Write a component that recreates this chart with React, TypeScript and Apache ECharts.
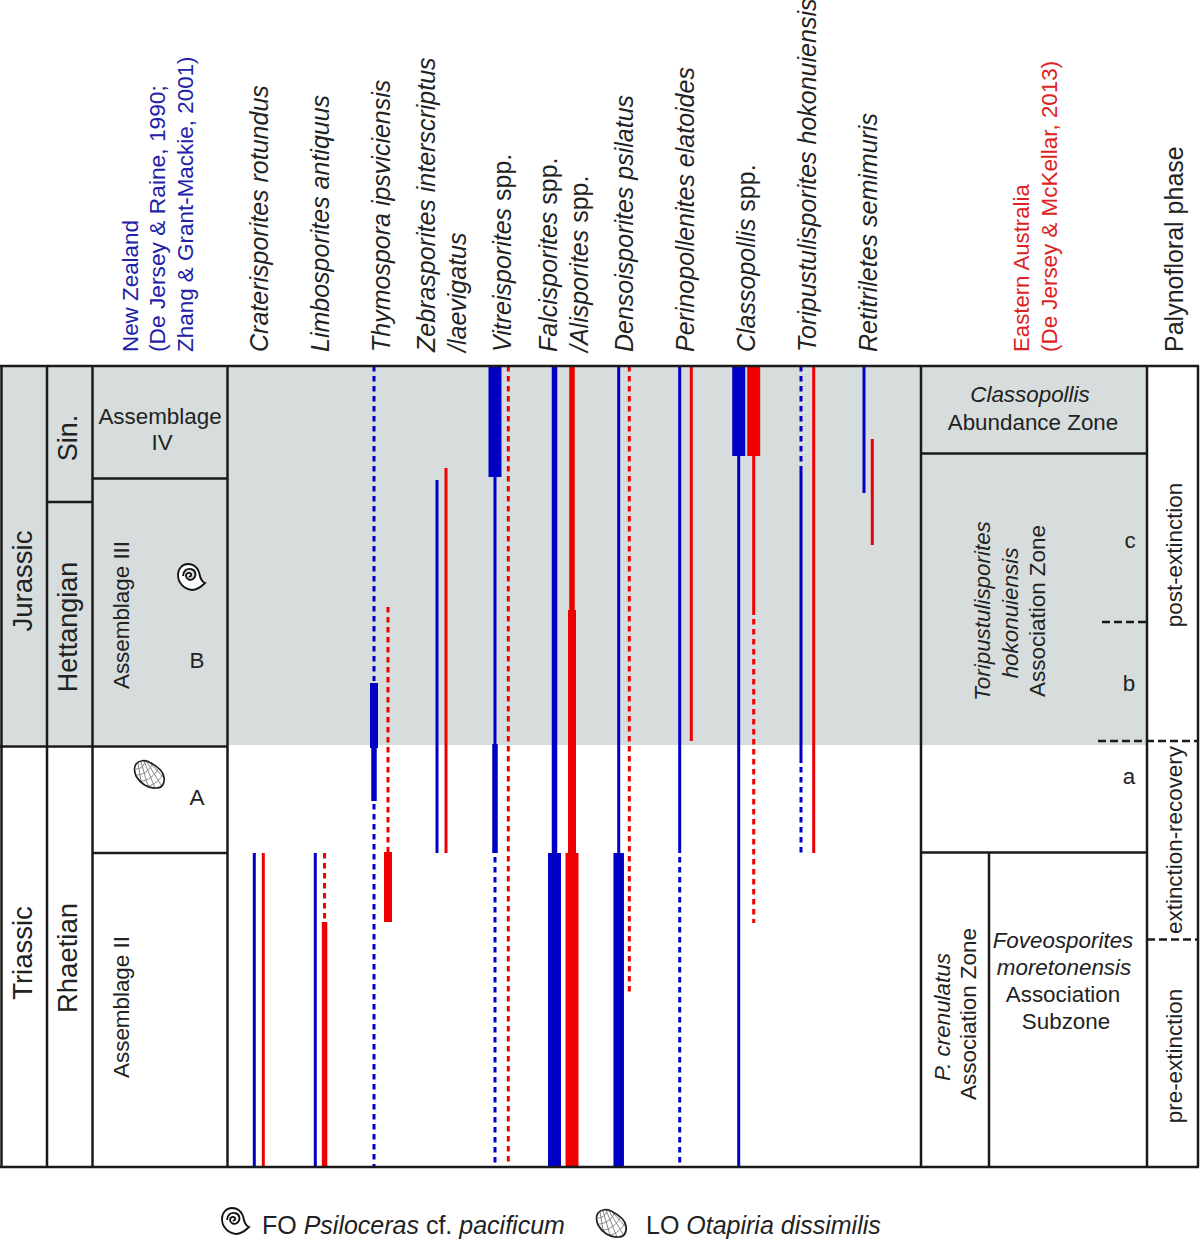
import React, { useEffect, useRef } from "react";
import * as echarts from "echarts";

// ---------- data ----------
const taxa = [
  "{i|Craterisporites rotundus}",
  "{i|Limbosporites antiquus}",
  "{i|Thymospora ipsviciensis}",
  "{i|Zebrasporites interscriptus}\n{i|/laevigatus}",
  "{i|Vitreisporites} {n|spp.}",
  "{i|Falcisporites} {n|spp.}\n{i|/Alisporites} {n|spp.}",
  "{i|Densoisporites psilatus}",
  "{i|Perinopollenites elatoides}",
  "{i|Classopollis} {n|spp.}",
  "{i|Toripustulisporites hokonuiensis}",
  "{i|Retitriletes semimuris}",
];

// [taxon index, upper level, lower level, occurrence class]
const newZealandRanges = [
  [0, 487, 801, "rare"],
  [1, 487, 801, "rare"],
  [2, 0, 315, "inferred"], [2, 317, 382, "common"], [2, 382, 435, "few"], [2, 438, 801, "inferred"],
  [3, 114, 487, "rare"],
  [4, 0, 111, "abundant"], [4, 111, 378, "rare"], [4, 378, 487, "few"], [4, 491, 801, "inferred"],
  [5, 0, 487, "few"], [5, 487, 801, "abundant"],
  [6, 0, 487, "rare"], [6, 487, 801, "frequent"],
  [7, 0, 487, "rare"], [7, 491, 801, "inferred"],
  [8, 0, 90, "abundant"], [8, 90, 801, "rare"],
  [9, 0, 98, "inferred"], [9, 100, 397, "rare"], [9, 401, 487, "inferred"],
  [10, 0, 127, "rare"],
];

const easternAustraliaRanges = [
  [0, 487, 801, "rare"],
  [1, 487, 555, "inferred"], [1, 556, 801, "few"],
  [2, 241, 486, "inferred"], [2, 486, 556, "common"],
  [3, 102, 487, "rare"],
  [4, 0, 801, "inferred"],
  [5, 0, 244, "few"], [5, 244, 487, "common"], [5, 487, 801, "abundant"],
  [6, 0, 627, "inferred"],
  [7, 0, 375, "rare"],
  [8, 0, 90, "abundant"], [8, 90, 249, "rare"], [8, 253, 557, "inferred"],
  [9, 0, 487, "rare"],
  [10, 73, 179, "rare"],
];

const regionHeadingNZ = ["New Zealand", "(De Jersey & Raine, 1990;", "Zhang & Grant-Mackie, 2001)"];
const regionHeadingAU = ["Eastern Australia", "(De Jersey & McKellar, 2013)"];

// ---------- layout and styles ----------
const FONT = '"Liberation Sans", Arial, sans-serif';
const BLUE = "#0000c4";
const RED = "#ee0000";
const HEAD_BLUE = "#2222a8";
const HEAD_RED = "#dd2222";
const INK = "#222222";
const GREY = "#d6dddc";
const LINE = "#1a1a1a";
const TOP = 366;
const HEIGHT = 801;
const LEFT = 228.3;
const BAND = 60.9;

const CLASS_WIDTH: Record<string, number> = { inferred: 3, rare: 3, few: 5.5, common: 8, frequent: 10.5, abundant: 13 };
const BLUE_SHIFT = [-4.45, -4.35, -6.55, -4.45, -7.35, -8.75, -5.45, -5.35, -7.25, -5.85, -3.75];
const RED_SHIFT = [4.55, 4.9, 7.45, 4.55, 5.95, 8.75, 5.15, 6.25, 7.75, 6.85, 4.55];

const AMMONITE =
  "M10 0C4 0 0 5 0 11C0 19 6 25 14 26C20 26 24 22 27 19C23 18 22 13 21 8C19 3 15 0 10 0Z" +
  "M5 12C5 7 9 4 13 5C18 6 19 12 15 15C12 17 8 15 8 12C8 9 11 8 13 10C14 12 12 13 11 12";
const SHELL_OUTLINE = "M3 4C6 0 12 0 16 2C22 5 30 10 31 17C32 24 29 28 23 28C15 29 7 23 3 16C1 11 1 7 3 4Z";
const SHELL_MESH =
  "M5 3L8 21M8 2L15 26M11 1L22 28M14 2L28 25M18 4L31 18" +
  "M3 9C7 9 10 7 12 2M4 15C10 15 17 10 19 5M8 21C15 21 22 15 25 9M15 26C21 25 27 20 30 14";

echarts.graphic.registerShape("ammonite", echarts.graphic.extendPath(AMMONITE, {}));
echarts.graphic.registerShape("shellOutline", echarts.graphic.extendPath(SHELL_OUTLINE, {}));
echarts.graphic.registerShape("shellMesh", echarts.graphic.extendPath(SHELL_MESH, {}));

const rich = (size: number) => ({
  i: { fontStyle: "italic", fontSize: size, fontFamily: FONT, fill: INK, color: INK },
  n: { fontStyle: "normal", fontSize: size, fontFamily: FONT, fill: INK, color: INK },
});

const BODY = 22.4;
const vText = (x: number, y: number, text: string, size = BODY, align = "center", fill = INK) => ({
  type: "text",
  x,
  y,
  rotation: Math.PI / 2,
  z: 6,
  silent: true,
  style: { text, fontSize: size, fontFamily: FONT, fill, align, verticalAlign: "middle", rich: rich(size) },
});
const hText = (x: number, y: number, text: string, size = BODY, align = "center") => ({
  type: "text",
  x,
  y,
  z: 6,
  silent: true,
  style: { text, fontSize: size, fontFamily: FONT, fill: INK, align, verticalAlign: "middle", rich: rich(size) },
});
const seg = (x1: number, y1: number, x2: number, y2: number, dash?: number[]) => ({
  type: "line",
  z: 5,
  silent: true,
  shape: { x1, y1, x2, y2 },
  style: { stroke: LINE, lineWidth: 2.5, lineDash: dash },
});
const ammonite = (x: number, y: number, s: number) => ({
  type: "ammonite", x, y, scaleX: s, scaleY: s, z: 6, silent: true,
  style: { fill: "#ffffff", stroke: "#111111", lineWidth: 1.8 },
});
const shell = (x: number, y: number, s: number) => [
  { type: "shellMesh", x, y, scaleX: s, scaleY: s, z: 6, silent: true, style: { fill: "none", stroke: "#888888", lineWidth: 1 } },
  { type: "shellOutline", x, y, scaleX: s, scaleY: s, z: 6, silent: true, style: { fill: "none", stroke: "#222222", lineWidth: 1.7 } },
];

const rangeSeries = (name: string, data: any[], color: string, shift: number[]) => ({
  type: "custom",
  name,
  data,
  clip: false,
  silent: true,
  encode: { x: 0, y: [1, 2] },
  renderItem: (_: any, api: any) => {
    const i = api.value(0);
    const cls = data[_.dataIndex][3];
    const a = api.coord([i, api.value(1)]);
    const b = api.coord([i, api.value(2)]);
    const x = a[0] + shift[i];
    return {
      type: "line",
      shape: { x1: x, y1: a[1], x2: x, y2: b[1] },
      style: {
        stroke: color,
        lineWidth: CLASS_WIDTH[cls],
        lineDash: cls === "inferred" ? [5.5, 4.5] : undefined,
        fill: "none",
      },
    };
  },
});

export default function App() {
  const ref = useRef<HTMLDivElement>(null);
  useEffect(() => {
    const chart = echarts.init(ref.current!, undefined, { renderer: "svg" });
    const frame: any[] = [
      { type: "rect", z: -1, silent: true, shape: { x: 0, y: TOP, width: 1147, height: 379 }, style: { fill: GREY } },
      // outer frame and column rules
      seg(0, TOP, 1199, TOP),
      seg(0, TOP + HEIGHT, 1199, TOP + HEIGHT),
      seg(1.5, TOP, 1.5, TOP + HEIGHT),
      seg(47, TOP, 47, TOP + HEIGHT),
      seg(92.5, TOP, 92.5, TOP + HEIGHT),
      seg(227.5, TOP, 227.5, TOP + HEIGHT),
      seg(921, TOP, 921, TOP + HEIGHT),
      seg(989, 853, 989, TOP + HEIGHT),
      seg(1147, TOP, 1147, TOP + HEIGHT),
      seg(1198, TOP, 1198, TOP + HEIGHT),
      // zone boundaries
      seg(0, 746.5, 227.5, 746.5),
      seg(47, 502, 92.5, 502),
      seg(92.5, 478.5, 227.5, 478.5),
      seg(92.5, 853, 227.5, 853),
      seg(921, 453.5, 1147, 453.5),
      seg(921, 852.5, 1147, 852.5),
      seg(1102, 622, 1147, 622, [8, 4]),
      seg(1098, 741, 1198, 741, [8, 4]),
      seg(1147, 939.5, 1198, 939.5, [8, 4]),
    ];
    const labels: any[] = [
      // headings
      vText(130, 352, regionHeadingNZ[0], 22.4, "left", HEAD_BLUE),
      vText(157, 352, regionHeadingNZ[1], 22.75, "left", HEAD_BLUE),
      vText(185, 352, regionHeadingNZ[2], 22.45, "left", HEAD_BLUE),
      vText(1021, 352, regionHeadingAU[0], 22.2, "left", HEAD_RED),
      vText(1049, 352, regionHeadingAU[1], 22.4, "left", HEAD_RED),
      vText(1173.5, 352, "Palynofloral phase", 25, "left"),
      // chronostratigraphy
      vText(22, 581, "Jurassic", 27.5),
      vText(22, 953, "Triassic", 27.5),
      vText(68, 438, "Sin.", 27),
      vText(67.5, 627, "Hettangian", 27),
      vText(67.5, 958, "Rhaetian", 27.5),
      // New Zealand assemblages
      hText(160, 416, "Assemblage"),
      hText(162, 442, "IV"),
      vText(121, 615, "Assemblage III"),
      vText(121, 1007, "Assemblage II"),
      hText(197, 660, "B"),
      hText(197, 797, "A"),
      // Australian zones
      hText(1030, 394, "{i|Classopollis}"),
      hText(1033, 422, "Abundance Zone"),
      vText(982, 611, "{i|Toripustulisporites}"),
      vText(1010, 613, "{i|hokonuiensis}"),
      vText(1037, 611, "Association Zone"),
      hText(1130, 540, "c"),
      hText(1129, 683, "b"),
      hText(1129, 776, "a"),
      vText(942, 1017, "{i|P. crenulatus}"),
      vText(968, 1014, "Association Zone"),
      hText(1063, 940, "{i|Foveosporites}"),
      hText(1064, 967, "{i|moretonensis}"),
      hText(1063, 994, "Association"),
      hText(1066, 1021, "Subzone"),
      // phases
      vText(1174, 555, "post-extinction"),
      vText(1174, 840, "extinction-recovery"),
      vText(1174, 1056, "pre-extinction"),
      // legend
      hText(262, 1225, "{n|FO }{i|Psiloceras}{n| cf. }{i|pacificum}", 25, "left"),
      hText(646, 1225, "{n|LO }{i|Otapiria dissimilis}", 25, "left"),
      // fossils
      ammonite(178, 564, 1),
      ammonite(222, 1208, 1),
      ...shell(133, 760, 1),
      ...shell(595, 1209, 1),
    ];
    chart.setOption({
      animation: false,
      backgroundColor: "#ffffff",
      tooltip: { show: false },
      graphic: { elements: [...frame, ...labels] },
      grid: {
        left: LEFT,
        top: TOP,
        width: BAND * taxa.length,
        height: HEIGHT,
        containLabel: false,
        outerBoundsMode: "none",
      },
      xAxis: {
        type: "category",
        position: "top",
        data: taxa,
        axisLine: { show: false },
        axisTick: { show: false },
        splitLine: { show: false },
        axisLabel: {
          interval: 0,
          rotate: 90,
          margin: 14,
          hideOverlap: false,
          lineHeight: 31,
          fontSize: 25,
          fontFamily: FONT,
          color: INK,
          rich: {
            i: { fontStyle: "italic", fontSize: 25, fontFamily: FONT, color: INK, lineHeight: 31 },
            n: { fontStyle: "normal", fontSize: 25, fontFamily: FONT, color: INK, lineHeight: 31 },
          },
        },
      },
      yAxis: { type: "value", inverse: true, min: 0, max: HEIGHT, show: false, splitLine: { show: false } },
      series: [
        rangeSeries("New Zealand", newZealandRanges, BLUE, BLUE_SHIFT),
        rangeSeries("Eastern Australia", easternAustraliaRanges, RED, RED_SHIFT),
      ],
    });
    return () => chart.dispose();
  }, []);
  return <div ref={ref} style={{ position: "absolute", left: 0, top: 0, width: 1200, height: 1239 }} />;
}
